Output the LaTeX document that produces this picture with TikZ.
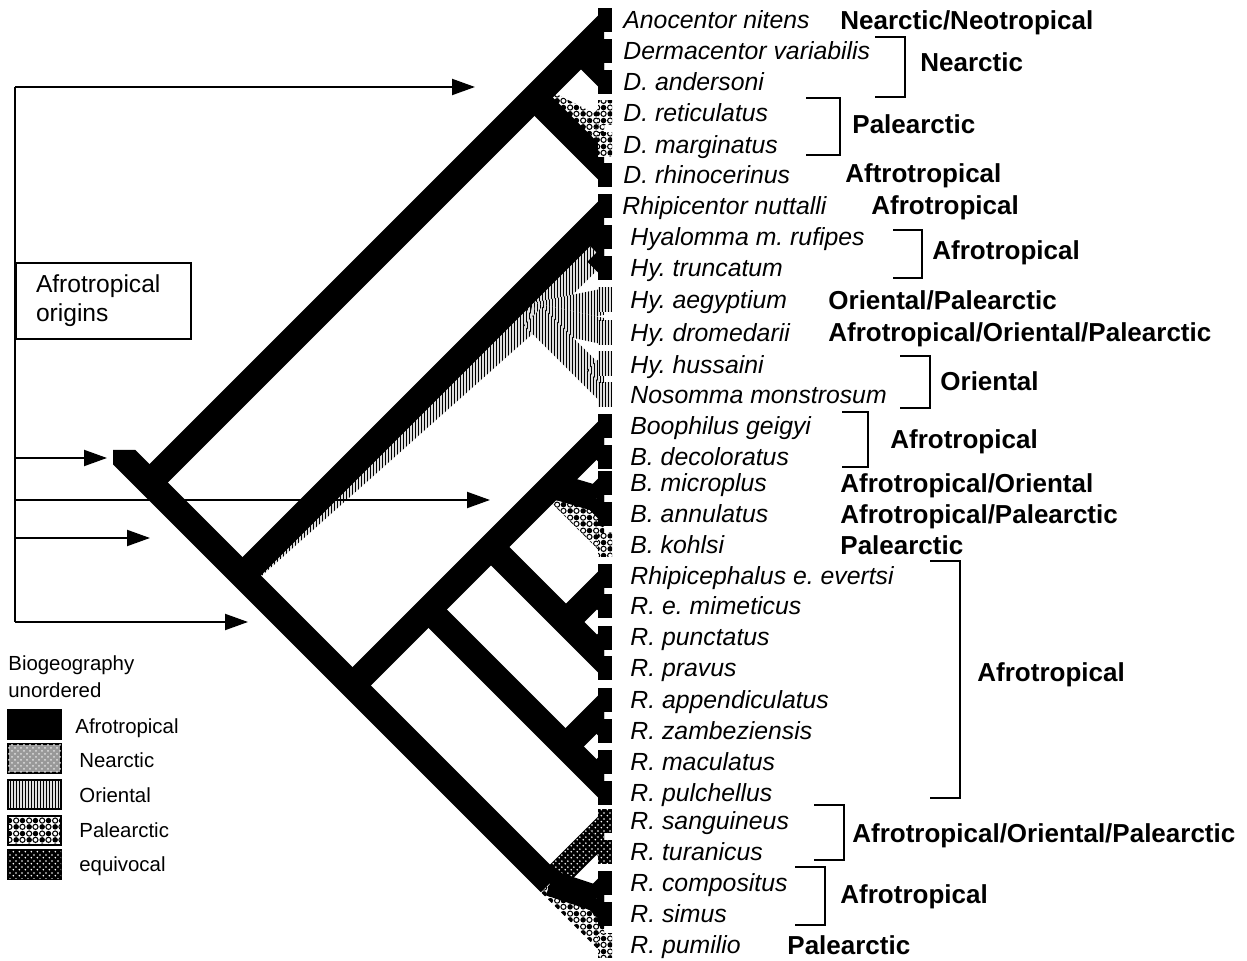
\documentclass[tikz,border=0pt]{standalone}
\usepackage{fontspec}
\setmainfont{Liberation Sans}
\usetikzlibrary{positioning,arrows.meta,calc,patterns}
\frenchspacing

\pgfdeclarepatternformonly{orient}{\pgfqpoint{0pt}{0pt}}{\pgfqpoint{1.7pt}{1.7pt}}{\pgfqpoint{1.7pt}{1.7pt}}{%
  \pgfsetlinewidth{0.8pt}\pgfpathmoveto{\pgfqpoint{0.85pt}{0pt}}\pgfpathlineto{\pgfqpoint{0.85pt}{1.7pt}}\pgfusepath{stroke}}
\pgfdeclarepatternformonly{palea}{\pgfqpoint{0pt}{0pt}}{\pgfqpoint{6.6pt}{6.6pt}}{\pgfqpoint{6.6pt}{6.6pt}}{%
  \pgfpathcircle{\pgfqpoint{1.65pt}{1.65pt}}{1.45pt}\pgfpathcircle{\pgfqpoint{4.95pt}{4.95pt}}{1.45pt}\pgfusepath{fill}%
  \pgfsetlinewidth{0.55pt}%
  \pgfpathcircle{\pgfqpoint{4.95pt}{1.65pt}}{1.35pt}\pgfpathcircle{\pgfqpoint{1.65pt}{4.95pt}}{1.35pt}\pgfusepath{stroke}}
\pgfdeclarepatternformonly{eqdots}{\pgfqpoint{0pt}{0pt}}{\pgfqpoint{3pt}{3pt}}{\pgfqpoint{3pt}{3pt}}{%
  \pgfpathcircle{\pgfqpoint{0.75pt}{0.75pt}}{0.5pt}\pgfpathcircle{\pgfqpoint{2.25pt}{2.25pt}}{0.5pt}\pgfusepath{fill}}

% a branch as a band of half width \hw
\newcommand\hw{6.5pt}
\newcommand\br[3]{\fill[#1] ($(#2)!\hw!90:(#3)$) -- ($(#3)!\hw!-90:(#2)$) -- ($(#3)!\hw!90:(#2)$) -- ($(#2)!\hw!-90:(#3)$) -- cycle;}
\newcommand\tip[3]{\coordinate (tp) at ($(#3)!-9pt!(#2)$); \br{#1}{#2}{tp}}

\begin{document}
\begin{tikzpicture}[x=0.5pt, y=-0.5pt,
  >={Triangle[length=11.5pt, width=8pt]},
  sp/.style={anchor=base west, inner sep=0pt, yshift=-4.3pt, font=\fontsize{12.4}{14}\selectfont\itshape},
  rg/.style={anchor=base west, inner sep=0pt, yshift=-4.6pt, font=\fontsize{13}{15}\selectfont\bfseries},
  lg/.style={anchor=base west, inner sep=0pt, yshift=-3.6pt, font=\fontsize{10.2}{12}\selectfont},
  ln/.style={line width=1pt},
  sw/.style={draw, line width=1pt, minimum width=26.5pt, minimum height=14.3pt, inner sep=0pt, anchor=north west},
  afr/.style={fill=black},
  pal/.style={fill=white, postaction={pattern=palea, pattern color=black}},
  ori/.style={fill=white, postaction={pattern=orient, pattern color=black}},
  equ/.style={fill=black, postaction={pattern=eqdots, pattern color=white}},
  nea/.style={fill=black!40, postaction={pattern=crosshatch dots, pattern color=black!12}}]
\fill[white] (0,0) rectangle (1247,961);
\useasboundingbox (0,0) rectangle (1247,961);

% tips and inner nodes of the tree
\foreach \i/\y in {1/20,2/51,3/82,4/113,5/145,6/175,7/206,8/237,9/268,10/300,11/333,
  12/364,13/395,14/426,15/457,16/483,17/514,18/545,19/576,20/606,21/638,22/668,
  23/700,24/731,25/762,26/793,27/821,28/852,29/883,30/914,31/945}
  \coordinate (L\i) at (612,\y);
\coordinate (stub) at (100,433);
\coordinate (nall) at (149.5,482.5);
\coordinate (nderm) at (534.5,97.5);
\coordinate (nanoc) at (581,51);
\coordinate (nva) at (596.5,66.5);
\coordinate (nrm) at (596.5,129);
\coordinate (nrest) at (242.5,575.5);
\coordinate (nhya) at (533,316);
\coordinate (nrt) at (596.5,252.5);
\coordinate (nhn) at (596.5,379.5);
\coordinate (nbr) at (352.5,685.5);
\coordinate (nbr26) at (428.5,609.5);
\coordinate (nbr22) at (491,547);
\coordinate (nboo) at (552.5,485.5);
\coordinate (ngd) at (596.5,441.5);
\coordinate (nma) at (596.5,498.5);
\coordinate (nev) at (566,622);
\coordinate (nem) at (597,591);
\coordinate (npp) at (597,653);
\coordinate (nap) at (565.5,746.5);
\coordinate (naz) at (596.5,715.5);
\coordinate (nmp) at (596.5,777.5);
\coordinate (nsan) at (550,883);
\coordinate (nst) at (596.5,836.5);
\coordinate (ncs) at (596.5,898.5);

\begin{scope}
  \clip (113,961) -- (113,450) -- (150,450) -- (150,0) -- (604,0) -- (604,961) -- cycle;
  % coloured branches first
  \br{pal}{nderm}{nrm} \tip{pal}{nrm}{L4} \tip{pal}{nrm}{L5}
  \br{ori}{nrest}{nhya} \br{ori}{nhya}{nrt} \tip{ori}{nhya}{L10} \tip{ori}{nhya}{L11}
  \tip{ori}{nhya}{L13} \tip{ori}{nhn}{L12}
  \tip{pal}{nboo}{L18}
  \tip{pal}{nsan}{L31}
  \br{equ}{nsan}{nst} \tip{equ}{nst}{L27} \tip{equ}{nst}{L28}
  % afrotropical
  \br{afr}{stub}{nsan}
  \tip{afr}{nall}{L1} \tip{afr}{nderm}{L6} \tip{afr}{nanoc}{L3} \tip{afr}{nva}{L2}
  \tip{afr}{nrest}{L7} \tip{afr}{nrt}{L8} \tip{afr}{nrt}{L9}
  \tip{afr}{nbr}{L14} \tip{afr}{ngd}{L15}
  \br{afr}{nboo}{nma} \tip{afr}{nma}{L16} \tip{afr}{nma}{L17}
  \tip{afr}{nbr26}{L26} \tip{afr}{nbr22}{L22} \tip{afr}{nev}{L19} \tip{afr}{nem}{L20} \tip{afr}{npp}{L21}
  \tip{afr}{nap}{L23} \tip{afr}{naz}{L24} \tip{afr}{nmp}{L25}
  \br{afr}{nsan}{ncs} \tip{afr}{ncs}{L29} \tip{afr}{ncs}{L30}
\end{scope}
% square ends of the tips
\foreach \i in {1,2,3,6,7,8,9,14,15,16,17,19,20,21,22,23,24,25,26,29,30}
  \fill[afr] ($(L\i)+(-14,-12)$) rectangle ($(L\i)+(0,12)$);
\foreach \i in {4,5,18,31}
  \fill[pal] ($(L\i)+(-14,-12)$) rectangle ($(L\i)+(0,12)$);
\foreach \i in {10,11,12,13}
  \fill[ori] ($(L\i)+(-14,-12)$) rectangle ($(L\i)+(0,12)$);
\foreach \i in {27,28}
  \fill[equ] ($(L\i)+(-14,-12)$) rectangle ($(L\i)+(0,12)$);

% taxa
\foreach \i/\x/\y/\t in {1/623/20/Anocentor nitens, 2/623/51/Dermacentor variabilis,
  3/623/82/D. andersoni, 4/623/113/D. reticulatus, 5/623/145/D. marginatus,
  6/623/175/D. rhinocerinus, 7/622/206/Rhipicentor nuttalli, 8/630/237/Hyalomma m. rufipes,
  9/630/268/Hy. truncatum, 10/630/300/Hy. aegyptium, 11/630/333/Hy. dromedarii,
  12/630/365/Hy. hussaini, 13/630/395/Nosomma monstrosum, 14/630/426/Boophilus geigyi,
  15/630/457/B. decoloratus, 16/630/483/B. microplus, 17/630/514/B. annulatus,
  18/630/545/B. kohlsi, 19/630/576/Rhipicephalus e. evertsi, 20/630/606/R. e. mimeticus,
  21/630/637/R. punctatus, 22/630/668/R. pravus, 23/630/700/R. appendiculatus,
  24/630/731/R. zambeziensis, 25/630/762/R. maculatus, 26/630/793/R. pulchellus,
  27/630/821/R. sanguineus, 28/630/852/R. turanicus, 29/630/883/R. compositus,
  30/630/914/R. simus, 31/630/945/R. pumilio}
  \node[sp] (t\i) at (\x,\y) {\t};

% distributions
\draw[ln] (875,37) -| (905,97) -- (875,97);
\draw[ln] (806,98) -| (840,155) -- (806,155);
\draw[ln] (893,230) -| (922,278) -- (893,278);
\draw[ln] (900,356) -| (930,408) -- (900,408);
\draw[ln] (842,412) -| (868,467) -- (842,467);
\draw[ln] (930,561) -| (960,798) -- (930,798);
\draw[ln] (814,805) -| (844,860) -- (814,860);
\draw[ln] (795,867) -| (825,925) -- (795,925);
\node[rg] (g1) at (840,20) {Nearctic/Neotropical};
\node[rg] (g2) at (920,62) {Nearctic};
\node[rg] (g3) at (852,124) {Palearctic};
\node[rg] (g4) at (845,173) {Aftrotropical};
\node[rg] (g5) at (871,205) {Afrotropical};
\node[rg] (g6) at (932,250) {Afrotropical};
\node[rg] (g7) at (828,300) {Oriental/Palearctic};
\node[rg] (g8) at (828,332) {Afrotropical/Oriental/Palearctic};
\node[rg] (g9) at (940,381) {Oriental};
\node[rg] (g10) at (890,439) {Afrotropical};
\node[rg] (g11) at (840,483) {Afrotropical/Oriental};
\node[rg] (g12) at (840,514) {Afrotropical/Palearctic};
\node[rg] (g13) at (840,545) {Palearctic};
\node[rg] (g14) at (977,672) {Afrotropical};
\node[rg] (g15) at (852,833) {Afrotropical/Oriental/Palearctic};
\node[rg] (g16) at (840,894) {Afrotropical};
\node[rg] (g17) at (787,945) {Palearctic};

% origins
\coordinate (vt) at (15,87);
\coordinate (vb) at (15,622);
\coordinate (a1) at (475,87);
\coordinate (a2) at (107,458);
\coordinate (a3) at (490,500);
\coordinate (a4) at (150,538);
\coordinate (a5) at (248,622);
\draw[ln] (vt) -- (vb);
\draw[ln, ->] (vt) -- (a1);
\draw[ln, ->] (vt |- a2) -- (a2);
\draw[ln, ->] (vt |- a3) -- (a3);
\draw[ln, ->] (vt |- a4) -- (a4);
\draw[ln, ->] (vb) -- (a5);
\node[draw, ln, fill=white, anchor=north west, text width=67.5pt, inner xsep=10pt, inner ysep=0pt,
  minimum height=38pt, align=left, font=\fontsize{12.3}{14.5}\selectfont] (orig) at (15,262)
  {Afrotropical\\origins};

% legend
\node[lg] (bio1) at (8,663) {Biogeography};
\node[lg] (bio2) at (8,690) {unordered};
\node[sw, afr] (kafr) at (7,709) {};
\node[sw, nea] (knea) at (7,743) {};
\node[sw, ori] (kori) at (7,779) {};
\node[sw, pal] (kpal) at (7,815) {};
\node[sw, equ] (kequ) at (7,849) {};
\node[lg] (lafr) at (75,726) {Afrotropical};
\node[lg] (lnea) at (79,760) {Nearctic};
\node[lg] (lori) at (79,795) {Oriental};
\node[lg] (lpal) at (79,830) {Palearctic};
\node[lg] (lequ) at (79,864) {equivocal};
\end{tikzpicture}
\end{document}
